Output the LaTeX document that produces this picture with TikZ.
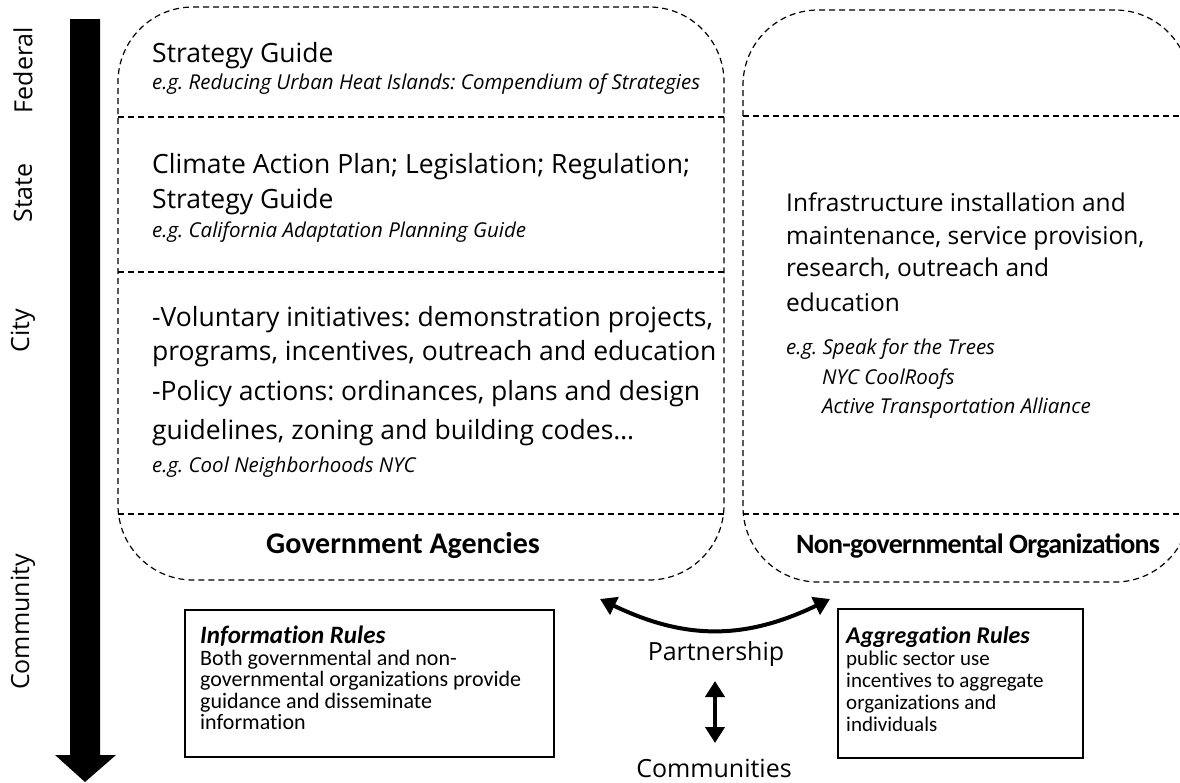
\documentclass[tikz,border=0pt]{standalone}
\usepackage{fontspec}
\setmainfont{Open Sans}
\newfontfamily\calib[Ligatures=NoCommon]{Carlito}
\newfontfamily\calibtight[LetterSpace=-2.7]{Carlito}
\usetikzlibrary{arrows.meta}
\frenchspacing
\begin{document}
\begin{tikzpicture}[x=1pt,y=-1pt,
  dashbox/.style={draw, dash pattern=on 6pt off 4pt, line width=1.2pt, rounded corners=75pt, inner sep=0pt},
  divider/.style={dash pattern=on 6pt off 4pt, line width=1.2pt},
  maintxt/.style={anchor=base west, inner sep=0pt, font=\fontsize{26.5}{32}\selectfont},
  righttxt/.style={anchor=base west, inner sep=0pt, font=\fontsize{24.5}{30}\selectfont},
  egtxt/.style={anchor=base west, inner sep=0pt, font=\fontsize{20.5}{24}\selectfont\itshape},
  titletxt/.style={anchor=base, inner sep=0pt, font=\calib\fontsize{30}{34}\selectfont\bfseries},
  leveltxt/.style={rotate=90, inner sep=0pt, font=\fontsize{25}{30}\selectfont},
  rulebox/.style={draw, line width=1.3pt, inner sep=0pt},
  ruletxt/.style={anchor=north west, inner sep=0pt, align=left},
  midtxt/.style={anchor=base, inner sep=0pt, font=\fontsize{25}{30}\selectfont},
  thickarrow/.style={line width=4pt, {Triangle[length=16pt,width=19pt]}-{Triangle[length=16pt,width=19pt]}}
]
\lineskiplimit=-30pt\relax
\clip (0,0) rectangle (1180,782);
\useasboundingbox (0,0) rectangle (1180,782);

% level arrow
\coordinate (lvtop) at (85,19);
\coordinate (lvbot) at (85,782);
\fill (70,19) -- (100,19) -- (100,755) -- (116,755) -- (lvbot) -- (55,755) -- (70,755) -- cycle;

% level labels
\node[leveltxt] (federal) at (23,70) {Federal};
\node[leveltxt] (state) at (23,193) {State};
\node[leveltxt] (city) at (23,331) {City};
\node[leveltxt] (community) at (23,622) {Community};

% boxes
\node[dashbox, minimum width=606pt, minimum height=573pt] (ga) at (421,293.5) {};
\node[dashbox, minimum width=447pt, minimum height=572pt] (ngo) at (966.5,296) {};

% dividers
\draw[divider] (118,117) -- (724,117);
\draw[divider] (118,272) -- (724,272);
\draw[divider] (118,514) -- (724,514);
\draw[divider] (743,116) -- (1190,116);
\draw[divider] (743,514) -- (1190,514);

% federal
\node[maintxt] (f1) at (152,62) {Strategy Guide};
\node[egtxt] (f2) at (152,89) {e.g. Reducing Urban Heat Islands: Compendium of Strategies};
% state
\node[maintxt] (s1) at (152,173) {Climate Action Plan; Legislation; Regulation;};
\node[maintxt] (s2) at (152,208) {Strategy Guide};
\node[egtxt] (s3) at (152,237) {e.g. California Adaptation Planning Guide};
% city
\node[maintxt] (c1) at (152,326) {-Voluntary initiatives: demonstration projects,};
\node[maintxt] (c2) at (152,360) {programs, incentives, outreach and education};
\node[maintxt] (c3) at (152,400) {-Policy actions: ordinances, plans and design};
\node[maintxt] (c4) at (152,439) {guidelines, zoning and building codes…};
\node[egtxt] (c5) at (152,472) {e.g. Cool Neighborhoods NYC};
\node[titletxt] (gatitle) at (403,553) {Government Agencies};

% ngo
\node[righttxt] (n1) at (786,211) {Infrastructure installation and};
\node[righttxt] (n2) at (786,244) {maintenance, service provision,};
\node[righttxt] (n3) at (786,276) {research, outreach and};
\node[righttxt] (n4) at (786,311) {education};
\node[egtxt] (n5) at (786,354) {e.g. Speak for the Trees};
\node[egtxt] (n6) at (822,384) {NYC CoolRoofs};
\node[egtxt] (n7) at (822,413) {Active Transportation Alliance};
\node[titletxt, font=\calibtight\fontsize{28}{32}\selectfont\bfseries] (ngotitle) at (978,553) {Non-governmental Organizations};

% information rules
\node[rulebox, minimum width=369pt, minimum height=147pt] (info) at (369.5,683.5) {};
\node[ruletxt, font=\calib\fontsize{22}{21.5}\selectfont] (itext) at (200,626)
  {{\fontsize{25}{21.5}\selectfont\bfseries\itshape Information Rules}\\Both governmental and non-\\governmental organizations provide\\guidance and disseminate\\information};

% aggregation rules
\node[rulebox, minimum width=245pt, minimum height=149pt] (agg) at (960.5,683.5) {};
\node[ruletxt, font=\calib\fontsize{21}{22}\selectfont] (atext) at (846,626)
  {{\fontsize{24}{22}\selectfont\bfseries\itshape Aggregation Rules}\\public sector use\\incentives to aggregate\\organizations and\\individuals};

% partnership
\node[midtxt] (partner) at (716,660) {Partnership};
\node[midtxt] (comm) at (714,777) {Communities};
\coordinate (pl) at (600,599);
\coordinate (pr) at (830,599);
\draw[thickarrow] (pl) .. controls (685,640) and (745,640) .. (pr);
\coordinate (vtop) at (715,681);
\coordinate (vbot) at (715,743);
\draw[thickarrow] (vtop) -- (vbot);
\end{tikzpicture}
\end{document}
